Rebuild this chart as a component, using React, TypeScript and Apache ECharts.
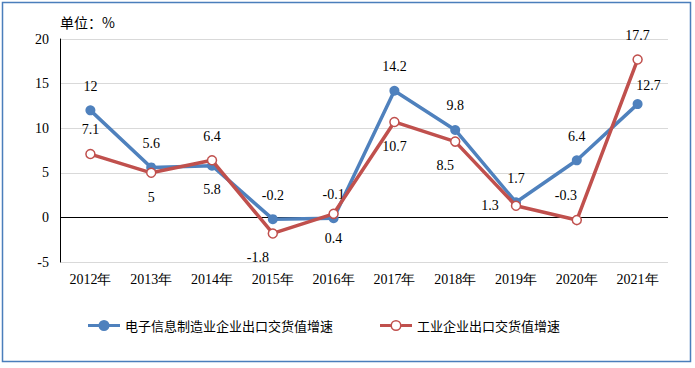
import React, { useEffect, useRef } from "react";
import * as echarts from "echarts";

const categories = ["2012年", "2013年", "2014年", "2015年", "2016年", "2017年", "2018年", "2019年", "2020年", "2021年"];
const electronics = [12, 5.6, 5.8, -0.2, -0.1, 14.2, 9.8, 1.7, 6.4, 12.7];
const industry = [7.1, 5, 6.4, -1.8, 0.4, 10.7, 8.5, 1.3, -0.3, 17.7];
const seriesNames = ["电子信息制造业企业出口交货值增速", "工业企业出口交货值增速"];
const unitText = "单位：%";

// label placement (style only)
const blueLabelPos: any[] = [
  { position: "top" }, { position: "top" }, { position: "bottom" }, { position: "top" }, { position: "top" },
  { position: "top" }, { position: "top" }, { position: "top" }, { position: "top" }, { position: "top", offset: [11, 5] },
];
const redLabelPos: any[] = [
  { position: "top" }, { position: "bottom" }, { position: "top" }, { position: "bottom", offset: [-15, 0] },
  { position: "bottom" }, { position: "bottom" }, { position: "bottom", offset: [-10, 0] },
  { position: "left", distance: 12 }, { position: "top", offset: [-11, 0] }, { position: "top" },
];

const FONT = "Liberation Serif";
const CJK = "Noto Sans CJK SC";
const BLUE = "#4F81BD";
const RED = "#C0504D";

const ICON_FILLED =
  "path://M0,4 L32,4 L32,7 L0,7 Z M10.5,5.5 A5.5,5.5 0 1,1 21.5,5.5 A5.5,5.5 0 1,1 10.5,5.5 Z";
const ICON_HOLLOW =
  "path://M0,4 L10.6,4 L10.6,7 L0,7 Z M21.4,4 L32,4 L32,7 L21.4,7 Z M10.5,5.5 A5.5,5.5 0 1,1 21.5,5.5 A5.5,5.5 0 1,1 10.5,5.5 Z M12,5.5 A4,4 0 1,0 20,5.5 A4,4 0 1,0 12,5.5 Z";

export default function App() {
  const ref = useRef<HTMLDivElement>(null);
  useEffect(() => {
    const chart = echarts.init(ref.current!, null, { renderer: "svg" });
    const mk = (vals: number[], pos: any[]) =>
      vals.map((v, i) => ({ value: v, label: { ...pos[i] } }));
    chart.setOption({
      animation: false,
      backgroundColor: "#ffffff",
      grid: { left: 60, right: 27, top: 39, bottom: 106, containLabel: false },
      graphic: [
        {
          type: "rect",
          shape: { x: 2.5, y: 2.5, width: 688, height: 359 },
          style: { fill: "none", stroke: "#4A7EBB", lineWidth: 1.5 },
          silent: true,
        },
        {
          type: "text",
          left: 60,
          top: 15,
          style: { text: unitText, fontSize: 14, fontFamily: CJK, fill: "#000" },
        },
      ],
      legend: {
        top: 314,
        left: 83,
        itemWidth: 32,
        itemHeight: 11,
        itemGap: 47,
        textStyle: { fontSize: 13, fontFamily: CJK, color: "#000" },
        data: [
          { name: seriesNames[0], icon: ICON_FILLED, itemStyle: { color: BLUE, borderWidth: 0 } },
          { name: seriesNames[1], icon: ICON_HOLLOW, itemStyle: { color: RED, borderWidth: 0 } },
        ],
      },
      xAxis: {
        type: "category",
        data: categories,
        boundaryGap: true,
        axisLine: { show: false, onZero: false },
        axisTick: { show: false },
        axisLabel: { fontSize: 14, fontFamily: FONT, color: "#000", margin: 10 },
      },
      yAxis: {
        type: "value",
        min: -5,
        max: 20,
        interval: 5,
        axisLine: { show: true, lineStyle: { color: "#000", width: 1 } },
        axisTick: { show: false },
        axisLabel: { fontSize: 14, fontFamily: FONT, color: "#000", margin: 11 },
        splitLine: { lineStyle: { color: "#d9d9d9", width: 1 } },
      },
      series: [
        {
          name: seriesNames[0],
          type: "line",
          data: mk(electronics, blueLabelPos),
          symbol: "circle",
          symbolSize: 10,
          lineStyle: { color: BLUE, width: 3.5 },
          itemStyle: { color: BLUE },
          label: { show: true, distance: 12, fontSize: 14, fontFamily: FONT, color: "#000" },
          z: 3,
          markLine: {
            silent: true,
            symbol: "none",
            label: { show: false },
            lineStyle: { color: "#000", type: "solid", width: 1 },
            data: [{ yAxis: 0 }],
            z: 1,
          },
        },
        {
          name: seriesNames[1],
          type: "line",
          data: mk(industry, redLabelPos),
          symbol: "circle",
          symbolSize: 9,
          lineStyle: { color: RED, width: 3.5 },
          itemStyle: { color: "#ffffff", borderColor: RED, borderWidth: 1.5 },
          label: { show: true, distance: 12, fontSize: 14, fontFamily: FONT, color: "#000" },
          z: 4,
        },
      ],
    });
    return () => chart.dispose();
  }, []);
  return (
    <div
      ref={ref}
      style={{ position: "fixed", left: 0, top: 0, width: 695, height: 368 }}
    />
  );
}
